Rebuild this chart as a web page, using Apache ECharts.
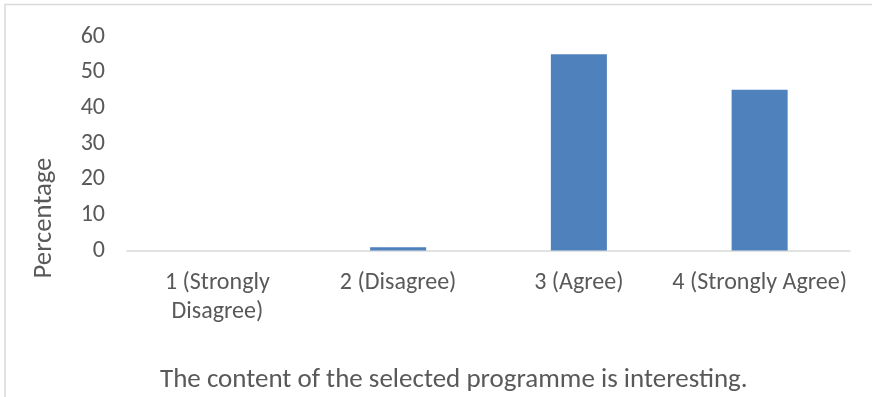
<!DOCTYPE html>
<html>
<head>
<meta charset="utf-8">
<script src="https://cdn.jsdelivr.net/npm/echarts@6/dist/echarts.min.js"></script>
<style>
  html, body { margin: 0; padding: 0; background: #ffffff; }
  #chart { width: 872px; height: 397px; }
</style>
</head>
<body>
<div id="chart"></div>
<script>
// Survey responses: share of respondents per agreement level
const categories = ['1 (Strongly\nDisagree)', '2 (Disagree)', '3 (Agree)', '4 (Strongly Agree)'];
const percentages = [0, 0.9, 55.0, 45.1];
const yTicks = { min: 0, max: 60, interval: 10 };
const chartTitle = 'The content of the selected programme is interesting.';
const yAxisTitle = 'Percentage';

const FONT = 'Carlito, Calibri, "Open Sans", sans-serif';
const TEXT = '#595959';

const chart = echarts.init(document.getElementById('chart'), null, { renderer: 'canvas' });
chart.setOption({
  animation: false,
  backgroundColor: '#ffffff',
  textStyle: { fontFamily: FONT },
  graphic: [{
    type: 'rect',
    shape: { x: 5, y: 4.5, width: 900, height: 420 },
    style: { fill: 'none', stroke: '#d9d9d9', lineWidth: 1.5 },
    silent: true
  }, {
    // vertical axis title
    type: 'text',
    x: 44,
    y: 218,
    rotation: Math.PI / 2,
    style: {
      text: yAxisTitle,
      fill: TEXT,
      font: '26.7px ' + FONT,
      align: 'center',
      verticalAlign: 'middle'
    },
    silent: true
  }],
  title: {
    text: chartTitle,
    left: 160,
    top: 367,
    padding: 0,
    textStyle: { fontFamily: FONT, fontSize: 27, fontWeight: 'normal', color: TEXT }
  },
  grid: { left: 127, right: 22, top: 36.5, bottom: 146.5, containLabel: false },
  xAxis: {
    type: 'category',
    data: categories,
    axisLine: { show: true, lineStyle: { color: '#d9d9d9', width: 1.5 } },
    axisTick: { show: false },
    axisLabel: { color: TEXT, fontFamily: FONT, fontSize: 24, lineHeight: 29, margin: 18, interval: 0 }
  },
  yAxis: {
    type: 'value',
    min: yTicks.min,
    max: yTicks.max,
    interval: yTicks.interval,
    axisLine: { show: false },
    axisTick: { show: false },
    splitLine: { show: false },
    axisLabel: { color: TEXT, fontFamily: FONT, fontSize: 24, margin: 22 }
  },
  series: [{
    type: 'bar',
    data: percentages,
    barWidth: '31%',
    itemStyle: { color: '#4f81bd' }
  }]
});
</script>
</body>
</html>
